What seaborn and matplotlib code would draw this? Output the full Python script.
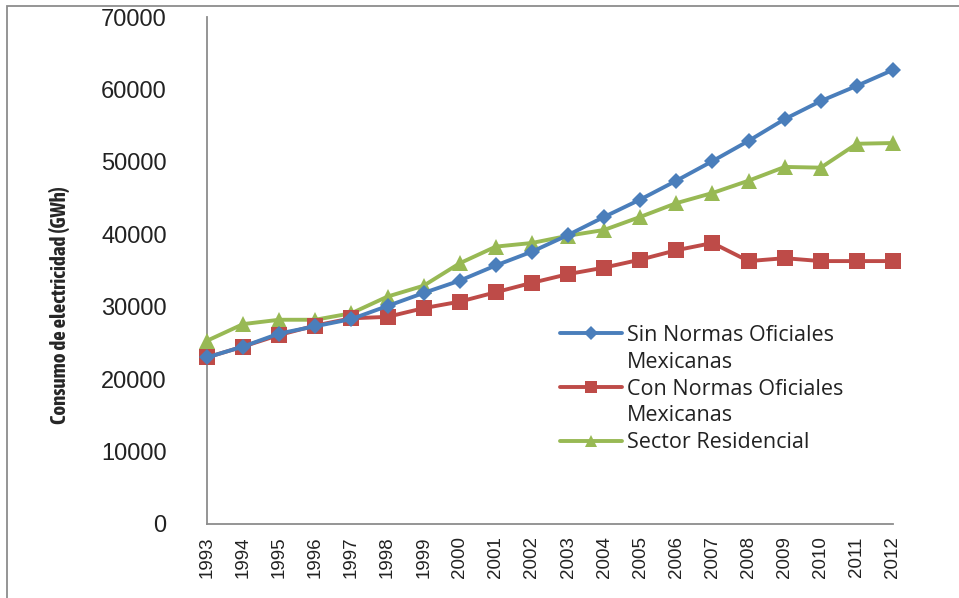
import matplotlib
matplotlib.use("Agg")
import matplotlib.pyplot as plt
import seaborn as sns
import pandas as pd
from matplotlib.lines import Line2D
from matplotlib.patches import Rectangle
from matplotlib import font_manager

years = list(range(1993, 2013))
sin_normas = [23000, 24500, 26300, 27300, 28300, 30100, 31900, 33600, 35700, 37600,
              39900, 42400, 44800, 47400, 50100, 52900, 55900, 58400, 60500, 62700]
con_normas = [23000, 24500, 26100, 27400, 28400, 28600, 29800, 30700, 32000, 33300,
              34500, 35400, 36500, 37800, 38800, 36300, 36700, 36300, 36300, 36300]
residencial = [25300, 27600, 28200, 28200, 29100, 31400, 32900, 36000, 38300, 38800,
               39800, 40600, 42400, 44300, 45700, 47400, 49300, 49200, 52500, 52600]
series_names = ["Sin Normas Oficiales Mexicanas", "Con Normas Oficiales Mexicanas", "Sector Residencial"]
legend_lines = [["Sin Normas Oficiales", "Mexicanas"],
                ["Con Normas Oficiales", "Mexicanas"],
                ["Sector Residencial"]]
y_ticks = [0, 10000, 20000, 30000, 40000, 50000, 60000, 70000]
y_label = "Consumo de electricidad (GWh)"

colors = ["#4A7EBB", "#BE4B48", "#98B954"]
markers = ["D", "s", "^"]
msizes = [8, 11, 11]

sns.set_style("white")
plt.rcParams['font.family'] = ['Liberation Sans', 'DejaVu Sans']

df = pd.DataFrame({
    "year": years * 3,
    "value": sin_normas + con_normas + residencial,
    "serie": [series_names[0]] * 20 + [series_names[1]] * 20 + [series_names[2]] * 20,
})

fig = plt.figure(figsize=(9.59, 5.98), dpi=100)
ax = fig.add_axes([207 / 959, 74 / 598, (893 - 207) / 959, (524 - 17) / 598])

for i, name in enumerate(series_names):
    sub = df[df["serie"] == name]
    sns.lineplot(data=sub, x="year", y="value", ax=ax, color=colors[i], marker=markers[i],
                 markersize=msizes[i], markeredgewidth=0, linewidth=2.8, legend=False,
                 clip_on=False, zorder=3 + (2 - i) * 0.1)

ax.set_xlim(1993, 2012)
ax.set_ylim(0, 70000)
ax.set_yticks(y_ticks)
ax.set_yticklabels([str(v) for v in y_ticks])
ax.set_xticks(years)
ax.set_xticklabels([str(y) for y in years], rotation=90)
ax.tick_params(axis='y', length=0, pad=29, labelsize=17, labelcolor="#222222")
ax.tick_params(axis='x', length=0, pad=9, labelsize=13.5, labelcolor="#222222")
ax.set_xlabel("")

# Prefer a condensed bold face for the axis title if one is installed
cond = [f for f in font_manager.fontManager.ttflist
        if f.weight in ('bold', 700) and str(f.stretch) in ('condensed', 'semi-condensed', '75', '87')]
cond_names = sorted({f.name for f in cond})
lab_family = [cond_names[0], 'Liberation Sans', 'DejaVu Sans'] if cond_names else ['Liberation Sans', 'DejaVu Sans']
ax.set_ylabel(y_label, fontsize=15 if cond_names else 12,
              fontweight='bold', family=lab_family)
ax.yaxis.set_label_coords(-(207 - 70) / 686, (524 - 305) / 507)

for s in ["top", "right"]:
    ax.spines[s].set_visible(False)
for s in ["left", "bottom"]:
    ax.spines[s].set_color("#8C8C8C")
    ax.spines[s].set_linewidth(1.3)

handles, labels = [], []
for i, lines in enumerate(legend_lines):
    handles.append(Line2D([], [], color=colors[i], marker=markers[i], markersize=msizes[i] * 0.85,
                          markeredgewidth=0, linewidth=2.8))
    labels.append(lines[0])
    for extra in lines[1:]:
        handles.append(Line2D([], [], color='none'))
        labels.append(extra)
leg = ax.legend(handles, labels, loc='upper left', bbox_to_anchor=((560 - 207) / 686, (524 - 325) / 507),
                frameon=False, handlelength=2.9, handletextpad=0.2,
                labelspacing=0.27, borderpad=0, borderaxespad=0,
                prop={'family': ['Open Sans', 'DejaVu Sans'], 'size': 15.5})
for t in leg.get_texts():
    t.set_color("#222222")

fig.patches.append(Rectangle((7 / 959, -0.1), 1.2, (598 - 6) / 598 + 0.1, transform=fig.transFigure,
                             fill=False, edgecolor="#8C8C8C", linewidth=1.3, figure=fig))

fig.savefig("out.png", dpi=100)
